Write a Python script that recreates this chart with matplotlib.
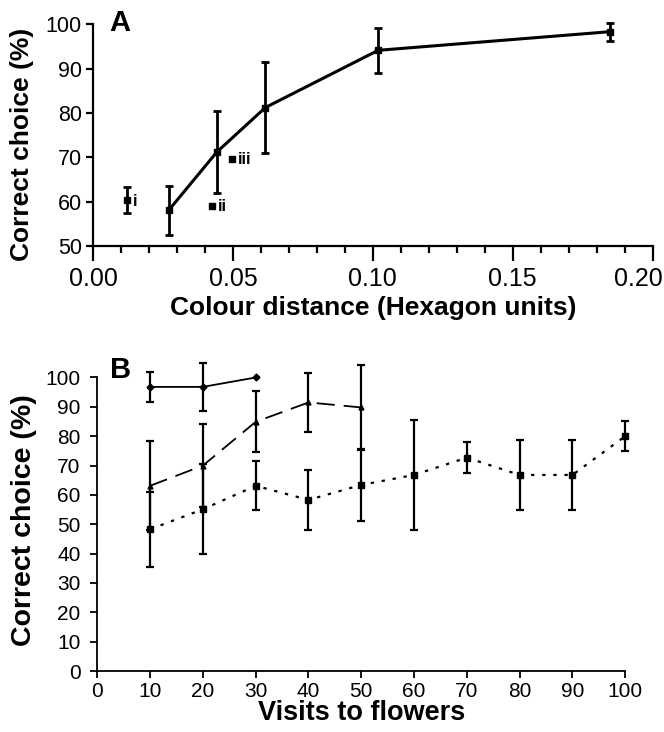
import matplotlib
matplotlib.use('Agg')
import matplotlib.pyplot as plt
from matplotlib.ticker import MultipleLocator
from matplotlib.transforms import ScaledTranslation

plt.rcParams['font.family'] = ['Liberation Sans', 'DejaVu Sans']

# Panel A: colour distance vs correct choice
dist = [0.027, 0.0443, 0.0616, 0.1019, 0.1847]
dist_choice = [58.0, 71.2, 81.2, 94.1, 98.3]
dist_err = [5.5, 9.3, 10.3, 5.1, 2.0]

# separate stimulus pairs i, ii, iii
pair_labels = ['i', 'ii', 'iii']
pair_dist = [0.0121, 0.0425, 0.0497]
pair_choice = [60.4, 59.1, 69.7]
pair_err = [3.0, 0.0, 0.0]

# Panel B: visits to flowers vs correct choice, three series
visits_a = [10, 20, 30]
choice_a = [96.8, 96.8, 100.0]
err_a = [5.1, 8.2, 0.0]

visits_b = [10, 20, 30, 40, 50]
choice_b = [63.1, 70.0, 84.9, 91.5, 89.8]
err_b = [15.2, 14.1, 10.4, 9.9, 14.4]

visits_c = [10, 20, 30, 40, 50, 60, 70, 80, 90, 100]
choice_c = [48.3, 55.1, 63.1, 58.3, 63.4, 66.8, 72.7, 66.8, 66.8, 80.0]
err_c = [12.8, 15.3, 8.3, 10.1, 12.3, 18.8, 5.3, 11.9, 11.9, 5.2]

xticks_a = [0, 0.05, 0.10, 0.15, 0.20]
xticklabels_a = ['0.00', '0.05', '0.10', '0.15', '0.20']

fig = plt.figure(figsize=(6.64, 7.32), dpi=100)

# ---- panel A ----
axA = fig.add_axes([0.140, 0.664, 0.843, 0.303])
axA.errorbar(dist, dist_choice, yerr=dist_err, color='black', lw=2.2,
             marker='s', ms=4, elinewidth=2.0, capsize=3, capthick=2.0,
             clip_on=False, zorder=3)
axA.errorbar(pair_dist[0], pair_choice[0], yerr=pair_err[0], color='black',
             marker='s', ms=4, elinewidth=2.0, capsize=3, capthick=2.0,
             ls='none', clip_on=False)
axA.plot(pair_dist[1:], pair_choice[1:], ls='none', marker='s', ms=4,
         color='black')
for lab, x, y in zip(pair_labels, pair_dist, pair_choice):
    axA.annotate(lab, (x, y), xytext=(4, -1), textcoords='offset points',
                 ha='left', va='center', fontsize=12, fontweight='bold')

axA.set_xlim(0, 0.20)
axA.set_ylim(50, 100)
axA.set_xticks(xticks_a)
axA.set_xticklabels(xticklabels_a)
axA.xaxis.set_minor_locator(MultipleLocator(0.01))
axA.yaxis.set_major_locator(MultipleLocator(10))
for s in ['top', 'right']:
    axA.spines[s].set_visible(False)
for s in ['left', 'bottom']:
    axA.spines[s].set_linewidth(1.6)
axA.tick_params(axis='x', which='major', labelsize=18, length=11, width=1.6,
                pad=4)
axA.tick_params(axis='x', which='minor', length=5, width=1.6)
axA.tick_params(axis='y', which='major', labelsize=15.5, length=5,
                width=1.6, pad=3)
# last label pulled left so it stays inside the figure
last = axA.get_xticklabels()[-1]
last.set_transform(last.get_transform() +
                   ScaledTranslation(-0.14, 0, fig.dpi_scale_trans))
axA.set_xlabel('Colour distance (Hexagon units)', fontsize=19,
               fontweight='bold', labelpad=4)
axA.set_ylabel('Correct choice (%)', fontsize=19, fontweight='bold')
axA.yaxis.set_label_coords(-0.105, 0.46)
fig.text(0.165, 0.969, 'A', fontsize=21, fontweight='bold', ha='left',
         va='center')

# ---- panel B ----
axB = fig.add_axes([0.1466, 0.0833, 0.795, 0.401])
axB.plot(visits_a, choice_a, color='black', lw=1.3, marker='D', ms=3.5,
         clip_on=False)
axB.errorbar(visits_a[:2], choice_a[:2], yerr=err_a[:2], ls='none',
             color='black', elinewidth=1.6, capsize=3, capthick=1.6,
             clip_on=False)
axB.errorbar(visits_b, choice_b, yerr=err_b, color='black', lw=1.3,
             ls=(0, (10, 5)), marker='^', ms=3.5, elinewidth=1.6, capsize=3,
             capthick=1.6, clip_on=False)
axB.errorbar(visits_c, choice_c, yerr=err_c, color='black', lw=1.6,
             ls=(0, (1.5, 3.5)), marker='s', ms=5, elinewidth=1.6,
             capsize=3, capthick=1.6, clip_on=False)

axB.set_xlim(0, 100)
axB.set_ylim(0, 100)
axB.xaxis.set_major_locator(MultipleLocator(10))
axB.yaxis.set_major_locator(MultipleLocator(10))
for s in ['top', 'right']:
    axB.spines[s].set_visible(False)
for s in ['left', 'bottom']:
    axB.spines[s].set_linewidth(1.3)
axB.tick_params(axis='both', labelsize=15, length=5, width=1.3)
axB.tick_params(axis='x', pad=3)
axB.tick_params(axis='y', pad=7)
axB.set_xlabel('Visits to flowers', fontsize=19.5, fontweight='bold',
               labelpad=-1)
axB.set_ylabel('Correct choice (%)', fontsize=20.5, fontweight='bold')
axB.yaxis.set_label_coords(-0.115, 0.514)
fig.text(0.165, 0.4945, 'B', fontsize=21, fontweight='bold', ha='left',
         va='center')

fig.savefig('out.png', dpi=100)
